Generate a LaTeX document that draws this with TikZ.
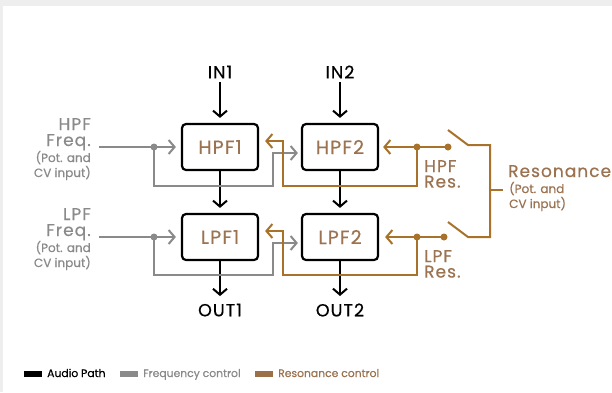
\documentclass[tikz,border=0pt]{standalone}
\usepackage{fontspec}
\setmainfont{Poppins}[FakeBold=0.5]
\newfontfamily\trackfont{Poppins}[FakeBold=0.5,LetterSpace=6]
\usepackage{tikz}
\usetikzlibrary{arrows.meta}
\definecolor{bgcolor}{HTML}{EEEEEE}
\definecolor{freqcolor}{HTML}{8A8A8A}
\definecolor{rescolor}{HTML}{A8722A}
\definecolor{restext}{HTML}{9B7350}
\definecolor{resbar}{HTML}{9B7048}

\begin{document}
\begin{tikzpicture}[x=1pt,y=-1pt,
    filt/.style={draw=black,line width=2.2pt,rounded corners=4pt,minimum width=76pt,
      minimum height=46pt,text=restext,font=\trackfont\fontsize{19}{19}\selectfont},
    sig/.style={line width=2pt,-{Straight Barb[length=6pt,width=14pt]}},
    freq/.style={draw=freqcolor,line width=2pt},
    res/.style={draw=rescolor,line width=2pt},
    iolabel/.style={font=\trackfont\fontsize{17.5}{17.5}\selectfont},
    bigtext/.style={inner sep=0pt,font=\trackfont\fontsize{17}{17}\selectfont},
    smalltext/.style={inner sep=0pt,font=\fontsize{12}{12}\selectfont}]
  \useasboundingbox (0,0) rectangle (612,392);
  \fill[bgcolor] (0,0) rectangle (612,392);
  \fill[white] (3,6) rectangle (612,392);

  %% filters
  \node[filt] (hpfA) at (220,147) {HPF1};
  \node[filt] (hpfB) at (340,147) {HPF2};
  \node[filt] (lpfA) at (220,237) {LPF1};
  \node[filt] (lpfB) at (340,237) {LPF2};

  %% audio path
  \node[iolabel] (inA) at (220,72) {IN1};
  \node[iolabel] (inB) at (340,72) {IN2};
  \node[iolabel] (outA) at (220,310) {OUT1};
  \node[iolabel] (outB) at (340,310) {OUT2};
  \draw[sig,shorten >=5pt] (inA) -- (hpfA);
  \draw[sig,shorten >=5pt] (inB) -- (hpfB);
  \draw[sig,shorten >=5pt] (hpfA) -- (lpfA);
  \draw[sig,shorten >=5pt] (hpfB) -- (lpfB);
  \draw[sig,shorten >=4pt] (lpfA) -- (outA);
  \draw[sig,shorten >=4pt] (lpfB) -- (outB);

  %% frequency control
  \coordinate (hfin) at (99,147);  \coordinate (hfdot) at (154,147);
  \coordinate (lfin) at (99,237);  \coordinate (lfdot) at (154,237);
  \draw[freq,sig,shorten >=5pt] (hfin) -- (hpfA.west);
  \draw[freq,sig,shorten >=3pt] (hfdot) |- (273,186) |- ([yshift=-6pt]hpfB.west);
  \draw[freq,sig,shorten >=5pt] (lfin) -- (lpfA.west);
  \draw[freq,sig,shorten >=3pt] (lfdot) |- (273,275) |- ([yshift=-6pt]lpfB.west);
  \fill[freqcolor] (hfdot) circle (3.5) (lfdot) circle (3.5);

  %% resonance control
  \coordinate (hrsw) at (448,147);  \coordinate (hrdot) at (417,147);
  \coordinate (lrsw) at (444,237);  \coordinate (lrdot) at (417,237);
  \draw[res,sig,shorten >=4pt] (hrsw) -- (hpfB.east);
  \draw[res,sig,shorten >=6pt] (hrdot) |- (283,186) |- ([yshift=6pt]hpfA.east);
  \draw[res,sig,shorten >=6pt] (lrsw) -- (lpfB.east);
  \draw[res,sig,shorten >=6pt] (lrdot) |- (283,275) |- ([yshift=6pt]lpfA.east);
  \fill[rescolor] (hrsw) circle (3.5) (hrdot) circle (3.5) (lrsw) circle (3.5) (lrdot) circle (3.5);
  \draw[res] (448,130) -- (468,145) -- (490,145) -- (490,237) -- (468,237) -- (448,222);
  \draw[res] (490,190) -- (503,190);

  %% labels
  \foreach \y/\nm in {147/HPF, 237/LPF}{
    \node[bigtext,text=freqcolor,anchor=base east] (\nm-a) at (91,\y-17) {\nm};
    \node[bigtext,text=freqcolor,anchor=base east] (\nm-b) at (91,\y-1) {Freq.};
    \node[smalltext,text=freqcolor,anchor=base east] (\nm-c) at (91,\y+15) {(Pot. and};
    \node[smalltext,text=freqcolor,anchor=base east] (\nm-d) at (91,\y+30) {CV input)};
    \node[bigtext,text=restext,anchor=north west,align=left,
      font=\trackfont\fontsize{17}{15.5}\selectfont] (\nm-res) at (424,\y+13) {\nm\\Res.};
  }
  \node[bigtext,text=restext,anchor=base west] (resA) at (508,177) {Resonance};
  \node[smalltext,text=restext,anchor=base west] (resB) at (509,193) {(Pot. and};
  \node[smalltext,text=restext,anchor=base west] (resC) at (509,208) {CV input)};

  %% legend
  \foreach \x/\bar/\col/\txt in {24/black/black/Audio Path, 120/freqcolor/freqcolor/Frequency control,
      255/resbar/restext/Resonance control}{
    \fill[\bar] (\x,370.5) rectangle (\x+18,376.5);
    \node[inner sep=0pt,anchor=base west,text=\col,font=\fontsize{10.8}{10.8}\selectfont] (leg\x) at (\x+23,377) {\txt};
  }
\end{tikzpicture}
\end{document}
